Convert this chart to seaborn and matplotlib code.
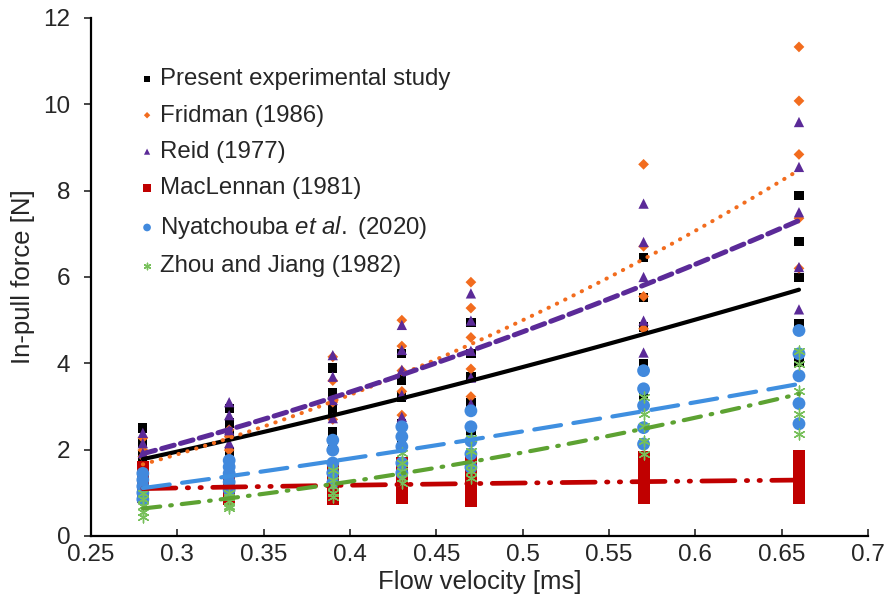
import matplotlib
matplotlib.use("Agg")
import matplotlib.pyplot as plt
import numpy as np
import pandas as pd
import seaborn as sns

velocity = [0.28, 0.33, 0.39, 0.43, 0.47, 0.57, 0.66]

# in-pull force values read per velocity
present = [[2.5, 2.15, 1.85, 1.5, 1.2], [2.96, 2.62, 2.38, 1.95, 1.6], [3.89, 3.31, 2.92, 2.42, 2.0],
           [4.22, 3.61, 3.22, 2.6, 2.25], [4.95, 4.22, 3.68, 3.09, 2.44],
           [6.45, 5.53, 4.84, 3.99, 3.25], [7.88, 6.83, 5.99, 4.93, 4.02]]
fridman = [[2.27, 1.99, 1.84, 1.65, 1.3], [2.46, 2.3, 1.99, 1.8, 1.5], [4.15, 3.6, 3.1, 2.7],
           [5.0, 4.4, 3.83, 3.35, 2.8], [5.88, 5.28, 4.6, 3.87, 3.23],
           [8.61, 6.71, 5.55, 4.8], [11.33, 10.08, 8.84, 7.36, 6.2]]
reid = [[2.39, 2.15, 1.92, 1.7, 1.45], [3.1, 2.8, 2.45, 2.15, 1.8], [4.19, 3.69, 3.15, 2.73],
        [4.89, 4.31, 3.85, 3.27, 2.76], [5.62, 4.99, 4.29, 3.67, 3.06],
        [7.7, 6.81, 6.0, 4.99, 4.25], [9.59, 8.55, 7.5, 6.23, 5.25]]
maclennan = [[1.6, 1.4, 1.2, 1.05, 0.95, 0.9], [1.34, 1.2, 1.05, 0.95, 0.85],
             [1.6, 1.4, 1.2, 1.05, 0.95, 0.85], [1.69, 1.5, 1.3, 1.1, 0.95, 0.88],
             [1.74, 1.5, 1.3, 1.1, 0.95, 0.82], [1.82, 1.6, 1.4, 1.2, 1.0, 0.87],
             [1.85, 1.65, 1.45, 1.25, 1.05, 0.88]]
nyatchouba = [[1.45, 1.3, 1.15, 1.0, 0.85], [1.75, 1.6, 1.45, 1.25, 1.07],
              [2.22, 1.99, 1.69, 1.46, 1.23], [2.53, 2.3, 2.07, 1.69, 1.46],
              [2.9, 2.53, 2.2, 1.9, 1.59], [3.83, 3.41, 3.02, 2.51, 2.13],
              [4.76, 4.22, 3.71, 3.07, 2.6]]
zhou = [[1.0, 0.85, 0.7, 0.55, 0.45], [1.0, 0.9, 0.8, 0.7, 0.65],
        [1.53, 1.3, 1.15, 1.0, 0.9], [1.92, 1.7, 1.5, 1.35, 1.23],
        [2.28, 1.97, 1.67, 1.51, 1.35], [3.21, 2.83, 2.55, 2.2, 1.9],
        [4.29, 3.99, 3.37, 2.83, 2.37]]

labels = ["Present experimental study", "Fridman (1986)", "Reid (1977)",
          "MacLennan (1981)", r"Nyatchouba $\it{et\ al.}$ (2020)", "Zhou and Jiang (1982)"]
series = [present, fridman, reid, maclennan, nyatchouba, zhou]

def to_frame(vals, name):
    rows = []
    for v, ys in zip(velocity, vals):
        for y in ys:
            rows.append((name, v, y))
    return pd.DataFrame(rows, columns=["serie", "velocity", "force"])

df = pd.concat([to_frame(s, l) for s, l in zip(series, labels)], ignore_index=True)

sns.set_style("ticks")
plt.rcParams["font.family"] = ["Liberation Sans", "DejaVu Sans"]
plt.rcParams["mathtext.fontset"] = "custom"
plt.rcParams["mathtext.rm"] = "Liberation Sans"
plt.rcParams["mathtext.it"] = "Liberation Sans:italic"

# marker, point colour, line colour, line style, line width, marker size
estilos = [
    ("s", "#000000", "#000000", "-", 3.0, 45),
    ("D", "#F26C1E", "#F26C1E", (0, (0.1, 2.2)), 2.9, 30),
    ("^", "#5B2A98", "#5B2A98", (0, (2.6, 1.3)), 3.6, 55),
    ("s", "#C00000", "#C00000", (0, (7, 2.4, 0.3, 2.4, 0.3, 2.4)), 3.4, 75),
    ("o", "#4189DD", "#3F8FE0", (0, (6.5, 3)), 3.0, 85),
    ((6, 2, 0), "#77C05A", "#5DA232", (0, (4.2, 2.4, 0.4, 2.4)), 3.0, 60),
]

fig = plt.figure(figsize=(8.96, 6), dpi=100)
ax = fig.add_axes([0.1016, 0.1067, 0.8672, 0.8633])

for lab, (mk, col, lcol, ls, lw, sz) in zip(labels, estilos):
    d = df[df["serie"] == lab]
    if isinstance(mk, tuple):
        sns.scatterplot(data=d, x="velocity", y="force", ax=ax, marker=mk, color=col,
                        s=sz, linewidth=1.0, label=lab, zorder=2)
    else:
        sns.scatterplot(data=d, x="velocity", y="force", ax=ax, marker=mk, color=col,
                        s=sz, edgecolor="none", linewidth=0, label=lab, zorder=2)

# power trend lines (fit in log-log space, like the spreadsheet trendline)
xs = np.linspace(min(velocity), max(velocity), 100)
for lab, (mk, col, lcol, ls, lw, sz) in zip(labels, estilos):
    d = df[df["serie"] == lab]
    b, a = np.polyfit(np.log(d["velocity"]), np.log(d["force"]), 1)
    tend = pd.DataFrame({"velocity": xs, "force": np.exp(a) * xs ** b})
    sns.lineplot(data=tend, x="velocity", y="force", ax=ax, color=lcol, linestyle=ls,
                 linewidth=lw, dash_capstyle="round", zorder=3, legend=False)

ax.set_xlim(0.25, 0.7)
ax.set_ylim(0, 12)
ax.set_xticks(np.arange(0.25, 0.701, 0.05))
ax.set_xticklabels(["0.25", "0.3", "0.35", "0.4", "0.45", "0.5", "0.55", "0.6", "0.65", "0.7"])
ax.set_yticks(range(0, 13, 2))
ax.tick_params(axis="x", direction="in", length=5, width=1.2, labelsize=17.5, pad=6)
ax.tick_params(axis="y", direction="out", length=5, width=1.2, labelsize=17.5, pad=10)
ax.set_xlabel("Flow velocity [ms]", fontsize=18.5, labelpad=3)
ax.set_ylabel("In-pull force [N]", fontsize=18.5, labelpad=6)
sns.despine(ax=ax)
for sp in ["left", "bottom"]:
    ax.spines[sp].set_linewidth(1.6)
    ax.spines[sp].set_color("black")

ax.legend(loc="upper left", bbox_to_anchor=(0.035, 0.945), frameon=False, fontsize=17.3,
          markerscale=0.6, handlelength=0.6, handletextpad=0.25, labelspacing=0.6)

fig.savefig("out.png", dpi=100)
